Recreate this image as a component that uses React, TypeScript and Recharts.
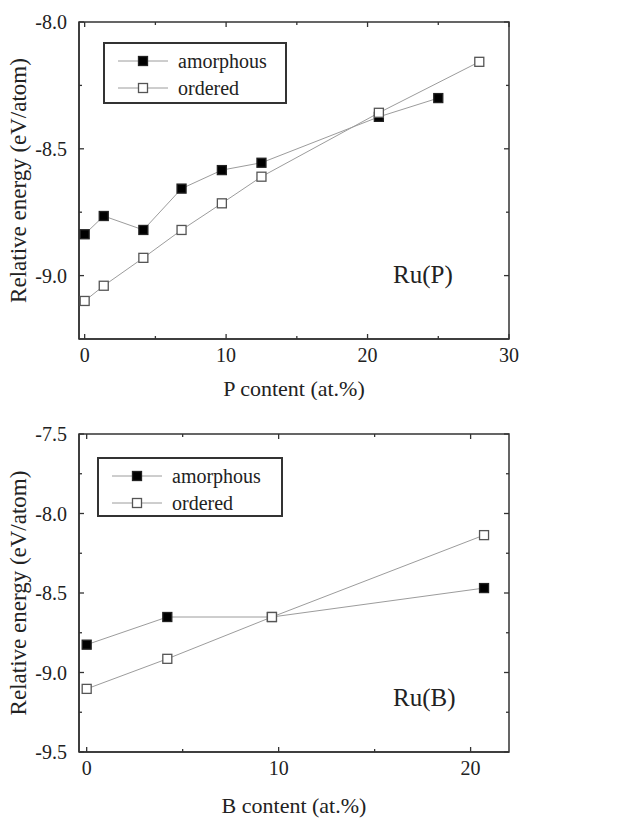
import { LineChart, Line, XAxis, YAxis, Legend, ReferenceArea, ReferenceLine } from 'recharts';

// Ru(P): P content (at.%) vs relative energy (eV/atom)
const pAmorphousX = [0, 1.35, 4.15, 6.85, 9.7, 12.5, 20.8, 25];
const pAmorphousE = [-8.837, -8.765, -8.82, -8.657, -8.584, -8.555, -8.374, -8.3];
const pOrderedX = [0, 1.35, 4.15, 6.85, 9.7, 12.5, 20.8, 27.9];
const pOrderedE = [-9.1, -9.04, -8.93, -8.82, -8.715, -8.61, -8.358, -8.157];

// Ru(B): B content (at.%) vs relative energy (eV/atom)
const bAmorphousX = [0, 4.2, 9.65, 20.7];
const bAmorphousE = [-8.825, -8.651, -8.651, -8.469];
const bOrderedX = [0, 4.2, 9.65, 20.7];
const bOrderedE = [-9.103, -8.914, -8.651, -8.136];

const pXMajor = [0, 10, 20, 30];
const pXMinor = [5, 15, 25];
const pYMajor = [-9.0, -8.5, -8.0];
const pYMinor = [-8.75, -8.25];

const bXMajor = [0, 10, 20];
const bXMinor = [5, 15];
const bYMajor = [-9.5, -9.0, -8.5, -8.0, -7.5];
const bYMinor = [-9.25, -8.75, -8.25, -7.75];

const SERIF = '"Liberation Serif", "Times New Roman", serif';
const AXIS = '#333';
const LINE = '#9c9c9c';
const TEXT = '#222';

const zip = (xs: number[], es: number[]) => xs.map((x, i) => ({ x, e: es[i] }));
const isMajor = (majors: number[], v: number) => majors.some((m) => Math.abs(m - v) < 1e-9);

function squareDot(filled: boolean) {
  return (p: any) => (
    <rect
      key={`${filled ? 'a' : 'o'}-${p.index}`}
      x={p.cx - 4.5}
      y={p.cy - 4.5}
      width={9}
      height={9}
      fill={filled ? '#000' : '#fff'}
      stroke={filled ? '#222' : '#555'}
      strokeWidth={1.3}
    />
  );
}

// bottom / left axis ticks point inward; labels only on majors
function bottomTick(majors: number[]) {
  return (p: any) => {
    const v = p.payload.value as number;
    const major = isMajor(majors, v);
    return (
      <g key={`b-${v}`}>
        <line x1={p.x} y1={p.y} x2={p.x} y2={p.y - (major ? 5 : 3)} stroke={AXIS} strokeWidth={1.3} />
        {major && (
          <text x={p.x} y={p.y + 9} dy="0.71em" textAnchor="middle" fontFamily={SERIF} fontSize={20} fill={TEXT}>
            {String(v)}
          </text>
        )}
      </g>
    );
  };
}

function leftTick(majors: number[]) {
  return (p: any) => {
    const v = p.payload.value as number;
    const major = isMajor(majors, v);
    return (
      <g key={`l-${v}`}>
        <line x1={p.x} y1={p.y} x2={p.x + (major ? 5 : 3)} y2={p.y} stroke={AXIS} strokeWidth={1.3} />
        {major && (
          <text x={p.x - 12} y={p.y} dy="0.35em" textAnchor="end" fontFamily={SERIF} fontSize={20} fill={TEXT}>
            {v.toFixed(1)}
          </text>
        )}
      </g>
    );
  };
}

// mirrored ticks on the top and right frame edges
function topTickShape(len: number) {
  return (p: any) => {
    const yTop = Math.min(p.y1, p.y2);
    return <line x1={p.x1} y1={yTop} x2={p.x1} y2={yTop + len} stroke={AXIS} strokeWidth={1.3} />;
  };
}
function rightTickShape(len: number) {
  return (p: any) => {
    const xr = Math.max(p.x1, p.x2);
    return <line x1={xr} y1={p.y1} x2={xr - len} y2={p.y1} stroke={AXIS} strokeWidth={1.3} />;
  };
}

function LegendSwatch({ filled }: { filled: boolean }) {
  return (
    <svg width={50} height={12} style={{ display: 'block' }}>
      <line x1={0} y1={6} x2={50} y2={6} stroke={LINE} strokeWidth={1} />
      <rect x={20.5} y={1.5} width={9} height={9} fill={filled ? '#000' : '#fff'} stroke={filled ? '#222' : '#555'} strokeWidth={1.3} />
    </svg>
  );
}

function LegendBox() {
  const row = (label: string, filled: boolean) => (
    <div style={{ display: 'flex', alignItems: 'center', height: 27 }}>
      <LegendSwatch filled={filled} />
      <span style={{ marginLeft: 10, fontFamily: SERIF, fontSize: 20, color: TEXT, lineHeight: '20px' }}>{label}</span>
    </div>
  );
  return (
    <div style={{ boxSizing: 'border-box', border: `2px solid ${AXIS}`, background: '#fff', padding: '3px 0 0 13px', width: '100%', height: '100%' }}>
      {row('amorphous', true)}
      {row('ordered', false)}
    </div>
  );
}

interface PanelProps {
  amorphous: { x: number; e: number }[];
  ordered: { x: number; e: number }[];
  height: number;
  top: number;
  plotHeight: number;
  xDomain: [number, number];
  xMajor: number[];
  xMinor: number[];
  yDomain: [number, number];
  yMajor: number[];
  yMinor: number[];
  xLabel: string;
  xLabelOffset: number;
  tag: string;
  tagTop: number;
  legend: { left: number; top: number; width: number; height: number };
}

function Panel(props: PanelProps) {
  const { height, top, plotHeight } = props;
  const bottomSpace = height - top - plotHeight;
  const xTicks = [...props.xMajor, ...props.xMinor].sort((a, b) => a - b);
  const yTicks = [...props.yMajor, ...props.yMinor].sort((a, b) => a - b);
  const axisLine = { stroke: AXIS, strokeWidth: 1.5 };
  return (
    <div style={{ position: 'relative', width: 619, height }}>
      <LineChart width={619} height={height} margin={{ top, right: 110, bottom: 0, left: 9 }}>
        <XAxis
          xAxisId="x"
          type="number"
          dataKey="x"
          domain={props.xDomain}
          allowDataOverflow
          ticks={xTicks}
          interval={0}
          height={bottomSpace}
          axisLine={axisLine}
          tickLine={false}
          tickSize={0}
          tickMargin={0}
          tick={bottomTick(props.xMajor)}
          label={{ value: props.xLabel, position: 'insideBottom', offset: props.xLabelOffset, style: { fontFamily: SERIF, fontSize: 22, fill: TEXT } }}
        />
        <YAxis
          yAxisId="y"
          type="number"
          dataKey="e"
          domain={props.yDomain}
          allowDataOverflow
          ticks={yTicks}
          interval={0}
          width={70}
          axisLine={axisLine}
          tickLine={false}
          tickSize={0}
          tickMargin={0}
          tick={leftTick(props.yMajor)}
          label={{ value: 'Relative energy (eV/atom)', angle: -90, position: 'insideLeft', offset: 9, style: { textAnchor: 'middle', fontFamily: SERIF, fontSize: 23, fill: TEXT } }}
        />
        <ReferenceArea
          xAxisId="x"
          yAxisId="y"
          x1={props.xDomain[0]}
          x2={props.xDomain[1]}
          y1={props.yDomain[0]}
          y2={props.yDomain[1]}
          fill="none"
          fillOpacity={0}
          stroke={AXIS}
          strokeWidth={1.5}
          ifOverflow="visible"
        />
        {xTicks.map((v) => (
          <ReferenceLine
            key={`tx-${v}`}
            xAxisId="x"
            yAxisId="y"
            x={v}
            ifOverflow="visible"
            shape={topTickShape(isMajor(props.xMajor, v) ? 5 : 3)}
          />
        ))}
        {yTicks.map((v) => (
          <ReferenceLine
            key={`ry-${v}`}
            xAxisId="x"
            yAxisId="y"
            y={v}
            ifOverflow="visible"
            shape={rightTickShape(isMajor(props.yMajor, v) ? 5 : 3)}
          />
        ))}
        <Legend
          layout="vertical"
          align="center"
          verticalAlign="middle"
          wrapperStyle={{ left: props.legend.left, top: props.legend.top, width: props.legend.width, height: props.legend.height }}
          content={() => <LegendBox />}
        />
        <Line
          xAxisId="x"
          yAxisId="y"
          name="amorphous"
          data={props.amorphous}
          dataKey="e"
          stroke={LINE}
          strokeWidth={1}
          dot={squareDot(true)}
          isAnimationActive={false}
        />
        <Line
          xAxisId="x"
          yAxisId="y"
          name="ordered"
          data={props.ordered}
          dataKey="e"
          stroke={LINE}
          strokeWidth={1}
          dot={squareDot(false)}
          isAnimationActive={false}
        />
      </LineChart>
      <div style={{ position: 'absolute', left: 393, top: props.tagTop, fontFamily: SERIF, fontSize: 25, color: TEXT, lineHeight: '25px' }}>
        {props.tag}
      </div>
    </div>
  );
}

export default function App() {
  return (
    <div style={{ position: 'absolute', left: 0, top: 0, width: 619, height: 819, background: '#fff', fontFamily: SERIF }}>
      <Panel
        amorphous={zip(pAmorphousX, pAmorphousE)}
        ordered={zip(pOrderedX, pOrderedE)}
        height={400}
        top={22}
        plotHeight={317}
        xDomain={[-0.4, 30]}
        xMajor={pXMajor}
        xMinor={pXMinor}
        yDomain={[-9.25, -8.0]}
        yMajor={pYMajor}
        yMinor={pYMinor}
        xLabel="P content (at.%)"
        xLabelOffset={4}
        tag="Ru(P)"
        tagTop={262}
        legend={{ left: 103, top: 42, width: 184, height: 62 }}
      />
      <Panel
        amorphous={zip(bAmorphousX, bAmorphousE)}
        ordered={zip(bOrderedX, bOrderedE)}
        height={419}
        top={34}
        plotHeight={318}
        xDomain={[-0.4, 22]}
        xMajor={bXMajor}
        xMinor={bXMinor}
        yDomain={[-9.5, -7.5]}
        yMajor={bYMajor}
        yMinor={bYMinor}
        xLabel="B content (at.%)"
        xLabelOffset={6}
        tag="Ru(B)"
        tagTop={285}
        legend={{ left: 97, top: 57, width: 186, height: 60 }}
      />
    </div>
  );
}
